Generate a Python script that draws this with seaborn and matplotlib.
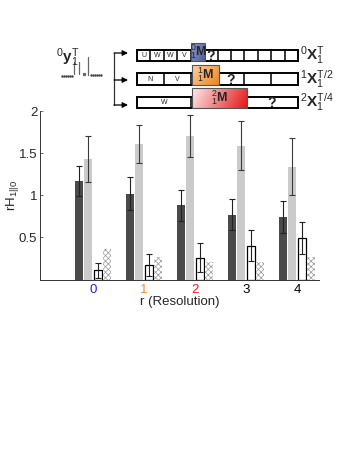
import numpy as np
import pandas as pd
import matplotlib
matplotlib.use('Agg')
import matplotlib.pyplot as plt
import seaborn as sns
from matplotlib.patches import Rectangle

# ---------------- data ----------------
resolutions = ['0', '1', '2', '3', '4']
series_names = ['dark', 'light', 'white', 'hatched']
dark_vals = [1.17, 1.02, 0.88, 0.77, 0.74]
dark_err = [0.18, 0.20, 0.18, 0.18, 0.19]
light_vals = [1.43, 1.61, 1.70, 1.59, 1.34]
light_err = [0.27, 0.225, 0.25, 0.295, 0.34]
white_vals = [0.11, 0.17, 0.26, 0.40, 0.49]
white_err = [0.09, 0.13, 0.175, 0.185, 0.19]
hatch_vals = [0.36, 0.27, 0.21, 0.21, 0.27]
tick_colors = ['#2020ff', '#ff8a2a', '#ff1a1a', 'black', 'black']
y_ticks = [0.5, 1, 1.5, 2]
y_tick_labels = ['0.5', '1', '1.5', '2']

sns.set_style('ticks')
plt.rcParams['font.family'] = ['Liberation Sans', 'DejaVu Sans']
plt.rcParams['mathtext.fontset'] = 'custom'
plt.rcParams['mathtext.rm'] = 'Liberation Sans'
plt.rcParams['mathtext.it'] = 'Liberation Sans'
plt.rcParams['mathtext.bf'] = 'Liberation Sans:bold'
plt.rcParams['hatch.linewidth'] = 0.5

W, H = 354, 458
fig = plt.figure(figsize=(W / 100, H / 100), dpi=100)
ax = fig.add_axes([40 / W, 1 - 279.5 / H, (319 - 40) / W, (279.5 - 111) / H])

all_vals = [dark_vals, light_vals, white_vals, hatch_vals]
df = pd.DataFrame({
    'r': [r for s in series_names for r in resolutions],
    'series': [s for s in series_names for _ in resolutions],
    'value': [v for vals in all_vals for v in vals],
})

palette = {'dark': '#4a4a4a', 'light': '#cbcbcb', 'white': 'white', 'hatched': 'white'}
sns.barplot(data=df, x='r', y='value', hue='series', hue_order=series_names,
            palette=palette, width=0.73, gap=0.14, errorbar=None,
            legend=False, saturation=1, ax=ax)

conts = ax.containers
for bar in conts[0]:
    bar.set_linewidth(0)
for bar in conts[1]:
    bar.set_linewidth(0)
for bar in conts[2]:
    bar.set_facecolor('white')
    bar.set_edgecolor('black')
    bar.set_linewidth(0.9)
for bar in conts[3]:
    bar.set_facecolor('white')
    bar.set_edgecolor('#9a9a9a')
    bar.set_hatch('xxxxxx')
    bar.set_linewidth(0)

def centers(cont):
    return [b.get_x() + b.get_width() / 2 for b in cont]

ax.errorbar(centers(conts[0]), dark_vals, yerr=dark_err, fmt='none',
            ecolor='#222222', elinewidth=0.8, capsize=2, capthick=0.8)
ax.errorbar(centers(conts[1]), light_vals, yerr=light_err, fmt='none',
            ecolor='#3a3a3a', elinewidth=0.8, capsize=2, capthick=0.8)
ax.errorbar(centers(conts[2]), white_vals, yerr=white_err, fmt='none',
            ecolor='#222222', elinewidth=0.8, capsize=2, capthick=0.8)

ax.set_xlim(-1.04, 4.43)
ax.set_ylim(0, 2)
ax.set_yticks(y_ticks)
ax.set_yticklabels(y_tick_labels, fontsize=9.5)
ax.tick_params(axis='y', direction='in', length=2.5, width=0.6, color='#555555', pad=2)
ax.tick_params(axis='x', length=0, pad=3, labelsize=9.5)
for lab, c in zip(ax.get_xticklabels(), tick_colors):
    lab.set_color(c)
ax.set_xlabel('r (Resolution)', fontsize=9.5, labelpad=0)
ax.set_ylabel(r'rH$_{1||0}$', fontsize=9.5)
ax.yaxis.set_label_coords(-19 / 279, 0.5)
sns.despine(ax=ax)
for s in ['left', 'bottom']:
    ax.spines[s].set_linewidth(0.7)
    ax.spines[s].set_color('#333333')
ax.patch.set_alpha(0)

# ---------------- schematic overlay ----------------
ov = fig.add_axes([0, 0, 1, 1], zorder=5)
ov.set_xlim(0, W)
ov.set_ylim(H, 0)
ov.axis('off')
ov.patch.set_alpha(0)

x0, x1 = 137, 298
rows = [
    dict(y0=50, y1=61, n=12, labels=['U', 'W', 'W', 'V', None, '?'], mi=4),
    dict(y0=73, y1=85, n=6, labels=['N', 'V', None, '?'], mi=2),
    dict(y0=97, y1=108, n=3, labels=['W', None, '?'], mi=1),
]
for row in rows:
    cw = (x1 - x0) / row['n']
    ov.add_patch(Rectangle((x0, row['y0']), x1 - x0, row['y1'] - row['y0'],
                           fill=False, ec='black', lw=1.4))
    for k in range(1, row['n']):
        xx = x0 + k * cw
        ov.plot([xx, xx], [row['y0'], row['y1']], color='black', lw=1.1)
    for k, lab in enumerate(row['labels']):
        if lab is None:
            continue
        cx = x0 + (k + 0.5) * cw
        if lab == '?':
            ov.text(cx, (row['y0'] + row['y1']) / 2 + 0.5, '?', ha='center', va='center',
                    fontsize=10, fontweight='bold')
        else:
            ov.text(cx, (row['y0'] + row['y1']) / 2 + 0.3, lab, ha='center', va='center',
                    fontsize=5)

def grad_box(xa, xb, ya, yb, c_light, c_dark, direction='diag'):
    nx, ny = 50, 20
    gx = np.linspace(0, 1, nx)[None, :]
    gy = np.linspace(0, 1, ny)[:, None]
    if direction == 'diag':
        t = 0.6 * gx + 0.4 * gy
    else:
        t = 0.85 * gx + 0.15 * gy
    t = (t - t.min()) / (t.max() - t.min())
    cl = np.array(matplotlib.colors.to_rgb(c_light))
    cd = np.array(matplotlib.colors.to_rgb(c_dark))
    img = cl[None, None, :] * (1 - t[..., None]) + cd[None, None, :] * t[..., None]
    ov.imshow(img, extent=(xa, xb, yb, ya), aspect='auto', zorder=3, interpolation='bilinear')
    ov.add_patch(Rectangle((xa, ya), xb - xa, yb - ya, fill=False, ec='#555555', lw=0.8, zorder=4))

grad_box(191, 205, 43, 61, '#8d9bcc', '#4d5f99')
ov.text(198, 52, r'${}^{0}_{1}\mathbf{M}$', ha='center', va='center', fontsize=9, zorder=6)
grad_box(192, 219, 65, 85, '#fbd2a6', '#ee8420')
ov.text(205.5, 75, r'${}^{1}_{1}\mathbf{M}$', ha='center', va='center', fontsize=9, zorder=6)
grad_box(192, 247, 88, 108, '#fde9e9', '#e41818', direction='horiz')
ov.text(219.5, 98, r'${}^{2}_{1}\mathbf{M}$', ha='center', va='center', fontsize=9, zorder=6)
ov.set_xlim(0, W)
ov.set_ylim(H, 0)

ov.text(300, 55.5, r'${}^{0}\mathbf{X}_{1}^{T}$', ha='left', va='center', fontsize=11)
ov.text(300, 79, r'${}^{1}\mathbf{X}_{1}^{T/2}$', ha='left', va='center', fontsize=11)
ov.text(300, 102.5, r'${}^{2}\mathbf{X}_{1}^{T/4}$', ha='left', va='center', fontsize=11)

# left input signal
ov.text(56, 58, r'${}^{0}\mathbf{y}_{1}^{T}$', ha='left', va='center', fontsize=11)
ov.plot(np.linspace(62, 72, 6), [76] * 6, ls='none', marker='s', ms=0.7, color='#444444')
ov.plot([74, 74], [62, 74], color='#666666', lw=0.9)
ov.plot([78.5, 78.5], [62, 74], color='#666666', lw=0.9)
ov.plot([83.5], [73.5], marker='s', ms=1.3, color='#666666')
ov.plot([88, 88], [57, 75], color='#666666', lw=0.9)
ov.plot(np.linspace(91, 101, 6), [75] * 6, ls='none', marker='s', ms=0.7, color='#444444')

# bracket arrows
ov.plot([114, 114], [53, 105], color='#333333', lw=0.9)
for yy in [53, 80, 105]:
    ov.annotate('', xy=(128, yy), xytext=(114, yy),
                arrowprops=dict(arrowstyle='-|>', color='black', lw=0.9,
                                mutation_scale=8, shrinkA=0, shrinkB=0))

fig.savefig('out.png', dpi=100)
